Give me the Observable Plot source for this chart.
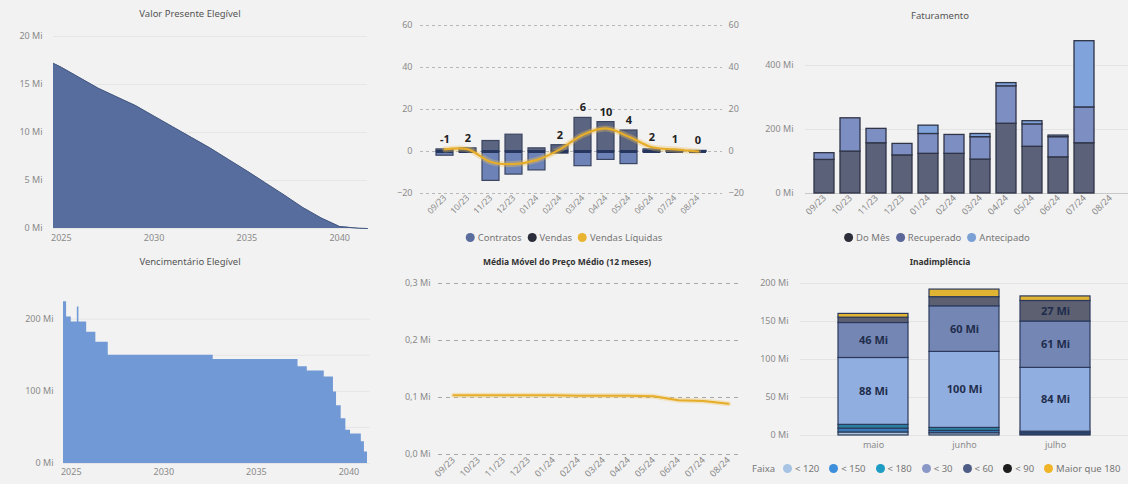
<!DOCTYPE html>
<html><head><meta charset="utf-8">
<script src="https://cdn.jsdelivr.net/npm/d3@7"></script>
<script src="https://cdn.jsdelivr.net/npm/@observablehq/plot@0.6"></script>
<style>
body{margin:0;background:#f2f2f2;font-family:"Noto Sans",sans-serif;}
#dash{position:relative;width:1128px;height:484px;overflow:hidden;background:#f2f2f2;}
.panel{position:absolute;}
.panel svg{overflow:visible;}
.title{position:absolute;font-size:9.5px;color:#555;white-space:nowrap;transform:translateX(-50%);line-height:12px;}
.title.b{font-weight:bold;color:#333;font-size:8.5px;}
.legend{position:absolute;font-size:9.5px;color:#777;white-space:nowrap;line-height:12px;}
.legend.c{transform:translateX(-50%);}
.legend span.it{margin-right:6px;}
.legend.w span.it{margin-right:10px;}
.sw{display:inline-block;width:9px;height:9px;border-radius:50%;margin-right:3px;vertical-align:-1px;}
</style>
</head><body>
<div id="dash"></div>
<script>
// ---------- DATA ----------
const months = ["09/23","10/23","11/23","12/23","01/24","02/24","03/24","04/24","05/24","06/24","07/24","08/24"];

// Valor Presente Elegível (Mi)
const vpDates = ["2024-08","2025-01","2026-01","2027-01","2028-01","2029-01","2030-01","2031-01","2032-01","2033-01","2034-01","2035-01","2036-01","2037-01","2038-01","2039-01","2040-01","2041-01","2041-07"];
const vpValues = [17.2,16.8,15.7,14.6,13.7,12.8,11.7,10.6,9.5,8.4,7.2,6.0,4.75,3.5,2.2,1.1,0.2,0.02,0];

// Vencimentário Elegível (Mi)
const vcDates = ["2024-08","2024-10","2025-01","2025-05","2025-06","2025-11","2026-05","2027-01","2032-09","2037-04","2037-10","2038-09","2039-03","2039-05","2039-08","2039-11","2040-02","2040-09","2040-11","2041-01"];
const vcValues = [224,203,196,217,196,182,168,150,144,134,128,120,99,80,62,46,41,30,16,0];

// Contratos / Vendas / Vendas Líquidas
const vendas = [1,1.5,5,8,1.5,3,16,14,10,1,0.7,0.3];
const contratos = [-2,-0.5,-14,-11,-9,-1,-7,-4,-6,-0.5,-0.3,-0.2];
const vendasLiquidas = [1,1,-5,-6,-4,1,8,11,7,2,1,0];
const saldoLabels = [-1,2,null,null,null,2,6,10,4,2,1,0];

// Média Móvel do Preço Médio (Mi)
const precoMedio = [0.104,0.104,0.104,0.104,0.104,0.103,0.103,0.103,0.102,0.095,0.094,0.089];

// Faturamento (Mi)
const fatSeries = ["Do Mês","Recuperado","Antecipado"];
const fatDoMes = [105,131,157,119,124,124,106,218,146,113,157,0];
const fatRecuperado = [21,104,45,36,62,59,70,117,70,63,112,0];
const fatAntecipado = [0,0,0,0,26,0,10,10,10,5,207,0];

// Inadimplência (Mi)
const inadMeses = ["maio","junho","julho"];
const faixas = ["< 120","< 150","< 180","< 30","< 60","< 90","Maior que 180"];
const inadMaio = [4,5,5,88,46,7,5];
const inadJunho = [3,3,4,100,60,12,10];
const inadJulho = [1,2,2,84,61,27,6];

// ---------- STYLE ----------
const FONT = "Noto Sans, sans-serif";
const baseStyle = {background:"transparent", fontFamily:FONT, fontSize:"9px", color:"#8a8a8a", overflow:"visible"};
const parseM = d3.utcParse("%Y-%m");
const dash = document.getElementById("dash");

function place(node, left, top){
  const d = document.createElement("div");
  d.className = "panel"; d.style.left = left+"px"; d.style.top = top+"px";
  d.appendChild(node); dash.appendChild(d);
}
function title(text, cx, top, bold){
  const d = document.createElement("div");
  d.className = "title" + (bold ? " b" : "");
  d.style.left = cx+"px"; d.style.top = top+"px"; d.textContent = text;
  dash.appendChild(d);
}
function legend(items, colors, left, top, centered, prefix){
  const d = document.createElement("div");
  d.className = "legend" + (centered ? " c" : " w");
  d.style.left = left+"px"; d.style.top = top+"px";
  let html = prefix ? `<span class="it" style="margin-right:8px">${prefix}</span>` : "";
  items.forEach((t,i)=>{ html += `<span class="it"><span class="sw" style="background:${colors[i]}"></span>${t}</span>`; });
  d.innerHTML = html; dash.appendChild(d);
}
const yearFmt = d => String(d.getUTCFullYear());

// ---------- Panel A: Valor Presente Elegível ----------
const vp = vpDates.map((d,i)=>({date:parseM(d), value:vpValues[i]}));
const yearTicks = [2025,2030,2035,2040].map(y=>new Date(Date.UTC(y,0,1)));
place(Plot.plot({
  width:378, height:245, marginLeft:53, marginRight:11, marginTop:36, marginBottom:17,
  style:baseStyle,
  x:{type:"utc", domain:[parseM("2024-08"), parseM("2041-07")], ticks:yearTicks, tickFormat:yearFmt, tickSize:0, tickPadding:6, label:null},
  y:{domain:[0,20], ticks:[0,5,10,15,20], tickFormat:d=>d+" Mi", tickSize:0, tickPadding:11, label:null},
  marks:[
    Plot.gridY({stroke:"#e6e6e6", strokeOpacity:1}),
    Plot.areaY(vp, {x:"date", y:"value", fill:"#566d9e"}),
    Plot.lineY(vp, {x:"date", y:"value", stroke:"#44577f", strokeWidth:1})
  ]
}), 0, 0);
title("Valor Presente Elegível", 190, 8);

// ---------- Panel B: Vencimentário Elegível ----------
const vc = vcDates.map((d,i)=>({date:parseM(d), value:vcValues[i]}));
place(Plot.plot({
  width:378, height:239, marginLeft:63, marginRight:8, marginTop:52, marginBottom:21,
  style:baseStyle,
  x:{type:"utc", domain:[parseM("2024-08"), parseM("2041-03")], ticks:yearTicks, tickFormat:yearFmt, tickSize:0, tickPadding:5, label:null},
  y:{domain:[0,230], ticks:[0,100,200], tickFormat:d=>d+" Mi", tickSize:0, tickPadding:10, label:null},
  marks:[
    Plot.gridY({stroke:"#e6e6e6", strokeOpacity:1}),
    Plot.areaY(vc, {x:"date", y:"value", fill:"#7199d5", curve:"step-after"})
  ]
}), 0, 245);
title("Vencimentário Elegível", 190, 256);

// ---------- Panel C: Contratos / Vendas ----------
const cv = months.map((m,i)=>({month:m, vendas:vendas[i], contratos:contratos[i], liq:vendasLiquidas[i], saldo:saldoLabels[i]}));
place(Plot.plot({
  width:370, height:222, marginLeft:40, marginRight:28, marginTop:25, marginBottom:29,
  style:baseStyle,
  x:{domain:months, paddingInner:0.25, paddingOuter:0.58, label:null},
  y:{domain:[-20,60], ticks:[-20,0,20,40,60], label:null},
  marks:[
    Plot.gridY({ticks:[-20,0,20,40,60], stroke:"#b8b8b8", strokeOpacity:1, strokeDasharray:"3,3"}),
    Plot.axisY({anchor:"left", ticks:[-20,0,20,40,60], tickSize:0, tickPadding:8, label:null}),
    Plot.axisY({anchor:"right", ticks:[-20,0,20,40,60], tickSize:0, tickPadding:6, label:null}),
    Plot.axisX({tickRotate:-45, tickSize:0, tickPadding:3, label:null, fontSize:8.5}),
    Plot.barY(cv, {x:"month", y1:0, y2:"contratos", fill:"#6d83b8", stroke:"#3b4560", strokeWidth:1.2}),
    Plot.barY(cv, {x:"month", y1:0, y2:"vendas", fill:"#5b6480", stroke:"#3b4560", strokeWidth:1.2}),
    Plot.tickY(cv, {x:"month", y:0, stroke:"#27365e", strokeWidth:3}),
    Plot.line(cv, {x:"month", y:"liq", curve:"catmull-rom", stroke:"#f0c45a", strokeOpacity:0.35, strokeWidth:6}),
    Plot.line(cv, {x:"month", y:"liq", curve:"catmull-rom", stroke:"#e6ad2a", strokeWidth:2.2}),
    Plot.text(cv, {x:"month", y:d=>Math.max(d.vendas, d.liq), text:"saldo", dy:-10, fontWeight:"bold", fontSize:11, fill:"#222"})
  ]
}), 380, 0);
legend(["Contratos","Vendas","Vendas Líquidas"], ["#5a6d9c","#2b2e3a","#e9b431"], 567, 232, true);

// ---------- Panel D: Média Móvel do Preço Médio ----------
const pm = months.map((m,i)=>({month:m, value:precoMedio[i]}));
place(Plot.plot({
  width:370, height:214, marginLeft:58, marginRight:8, marginTop:13, marginBottom:30,
  style:baseStyle,
  x:{type:"point", domain:months, padding:0.35, tickRotate:-45, tickSize:0, tickPadding:4, label:null, fontSize:8.5},
  y:{domain:[0,0.3], ticks:[0,0.1,0.2,0.3], tickFormat:d=>d.toFixed(1).replace(".",",")+" Mi", tickSize:0, tickPadding:8, label:null},
  marks:[
    Plot.gridY({ticks:[0,0.1,0.2,0.3], stroke:"#a8a8a8", strokeOpacity:1, strokeDasharray:"4,4"}),
    Plot.line(pm, {x:"month", y:"value", stroke:"#f0c45a", strokeOpacity:0.35, strokeWidth:5}),
    Plot.line(pm, {x:"month", y:"value", stroke:"#e6ad2a", strokeWidth:2})
  ]
}), 380, 270);
title("Média Móvel do Preço Médio (12 meses)", 567, 256, true);

// ---------- Panel E: Faturamento ----------
const fatVals = [fatDoMes, fatRecuperado, fatAntecipado];
const fat = [];
months.forEach((m,i)=>fatSeries.forEach((s,j)=>fat.push({month:m, serie:s, value:fatVals[j][i]})));
place(Plot.plot({
  width:378, height:222, marginLeft:55, marginRight:0, marginTop:33, marginBottom:29,
  style:baseStyle,
  x:{domain:months, paddingInner:0.25, paddingOuter:0.22, tickRotate:-45, tickSize:0, tickPadding:3, label:null, fontSize:8.5},
  y:{domain:[0,500], ticks:[0,200,400], tickFormat:d=>d+" Mi", tickSize:0, tickPadding:12, label:null},
  color:{domain:fatSeries, range:["#5a6179","#7d8fc2","#7fa3da"]},
  marks:[
    Plot.gridY({ticks:[200,400], stroke:"#e4e4e4", strokeOpacity:1}),
    Plot.ruleY([0], {stroke:"#c8c8c8"}),
    Plot.barY(fat, {x:"month", y:"value", fill:"serie", order:fatSeries, filter:d=>d.value>0, stroke:"#2f3446", strokeWidth:1.3})
  ]
}), 750, 0);
title("Faturamento", 940, 10);
legend(fatSeries, ["#2c2f3a","#5b6699","#7aa0d6"], 940, 232, true);

// ---------- Panel F: Inadimplência ----------
const inadVals = [inadMaio, inadJunho, inadJulho];
const inad = [];
inadMeses.forEach((m,i)=>faixas.forEach((f,j)=>inad.push({mes:m, faixa:f, value:inadVals[i][j]})));
place(Plot.plot({
  width:378, height:185, marginLeft:50, marginRight:0, marginTop:13, marginBottom:20,
  style:baseStyle,
  x:{domain:inadMeses, paddingInner:0.23, paddingOuter:0.4, tickSize:0, tickPadding:6, label:null},
  y:{domain:[0,200], ticks:[0,50,100,150,200], tickFormat:d=>d+" Mi", tickSize:0, tickPadding:12, label:null},
  color:{domain:faixas, range:["#a9c3d9","#3a78b8","#2a7f9e","#91aee0","#7486b4","#5c6070","#e2b434"]},
  marks:[
    Plot.gridY({stroke:"#e4e4e4", strokeOpacity:1}),
    Plot.barY(inad, {x:"mes", y:"value", fill:"faixa", order:faixas, stroke:"#2b3a5c", strokeWidth:1.2}),
    Plot.text(inad, Plot.stackY({x:"mes", y:"value", order:faixas, z:"faixa", text:d=>d.value>=20 ? `${Math.round(d.value)} Mi` : null, fontWeight:"bold", fontSize:11, fill:"#1f2d4d"}))
  ]
}), 750, 270);
title("Inadimplência", 940, 256, true);
legend(faixas, ["#a8c4e4","#3d8fdc","#1e9cc4","#8a98c8","#4d5d85","#1d1d1d","#f0b429"], 752, 463, false, "Faixa");
</script>
</body></html>
